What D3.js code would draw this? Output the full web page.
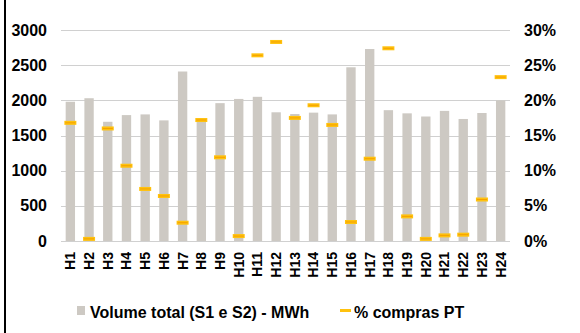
<!DOCTYPE html>
<html>
<head>
<meta charset="utf-8">
<script src="https://cdn.jsdelivr.net/npm/d3@7"></script>
<style>
  html, body { margin: 0; padding: 0; background: #fff; }
  svg { display: block; font-family: "Liberation Sans", Arial, sans-serif; font-weight: bold; }
</style>
</head>
<body>
<svg id="chart" width="580" height="333"></svg>
<script>
const categories = ["H1","H2","H3","H4","H5","H6","H7","H8","H9","H10","H11","H12","H13","H14","H15","H16","H17","H18","H19","H20","H21","H22","H23","H24"];
const volume = [1980, 2030, 1695, 1790, 1800, 1715, 2410, 1710, 1960, 2020, 2050, 1830, 1805, 1825, 1800, 2470, 2730, 1860, 1815, 1770, 1850, 1735, 1820, 2000];
const comprasPT = [16.8, 0.3, 16.0, 10.7, 7.4, 6.4, 2.6, 17.2, 11.9, 0.7, 26.4, 28.3, 17.5, 19.3, 16.5, 2.7, 11.7, 27.4, 3.5, 0.3, 0.8, 0.9, 5.9, 23.3];
const leftTicks = [0, 500, 1000, 1500, 2000, 2500, 3000];
const rightTicks = [0, 5, 10, 15, 20, 25, 30];
const legendLabels = ["Volume total (S1 e S2) - MWh", "% compras PT"];

const svg = d3.select("#chart");
const plot = { left: 61, right: 510, top: 30, bottom: 241 };
const FONT = "Liberation Sans, Arial, sans-serif";

const x = d3.scaleBand().domain(categories).range([plot.left, plot.right]).paddingInner(0.5).paddingOuter(0.25);
const yL = d3.scaleLinear().domain([0, 3000]).range([plot.bottom, plot.top]);
const yR = d3.scaleLinear().domain([0, 30]).range([plot.bottom, plot.top]);

// left border line
svg.append("line").attr("x1", 5).attr("x2", 5).attr("y1", 0).attr("y2", 333)
  .attr("stroke", "#000").attr("stroke-width", 2);

// gridlines
svg.append("g").selectAll("line").data(leftTicks).join("line")
  .attr("x1", plot.left).attr("x2", plot.right)
  .attr("y1", d => Math.round(yL(d)) + 0.5).attr("y2", d => Math.round(yL(d)) + 0.5)
  .attr("stroke", "#d0d0d0").attr("stroke-width", 1);

// bars
svg.append("g").selectAll("rect").data(categories).join("rect")
  .attr("x", d => x(d))
  .attr("width", x.bandwidth())
  .attr("y", (d, i) => yL(volume[i]))
  .attr("height", (d, i) => yL(0) - yL(volume[i]))
  .attr("fill", "#cdc9c3");

// markers
const mw = 12;
const mk = svg.append("g").selectAll("g").data(categories).join("g")
  .attr("transform", (d, i) => `translate(${x(d) + x.bandwidth() / 2},${yR(comprasPT[i])})`);
mk.append("rect").attr("x", -mw / 2).attr("y", -2).attr("width", mw).attr("height", 4).attr("fill", "#ffc20e");
mk.append("line").attr("x1", -mw / 2 + 1).attr("x2", mw / 2 - 1).attr("y1", 0).attr("y2", 0)
  .attr("stroke", "#f5a000").attr("stroke-width", 1);

// left axis
const axL = d3.axisLeft(yL).tickValues(leftTicks).tickFormat(d3.format("d")).tickSize(0).tickPadding(0);
const gL = svg.append("g").attr("transform", "translate(47,0)").call(axL);
gL.attr("font-family", FONT);
gL.select(".domain").remove();
gL.selectAll("text").attr("font-size", "16px").attr("font-weight", "bold").attr("fill", "#000");

// right axis
const axR = d3.axisRight(yR).tickValues(rightTicks).tickFormat(d => d + "%").tickSize(0).tickPadding(0);
const gR = svg.append("g").attr("transform", "translate(524,0)").call(axR);
gR.attr("font-family", FONT);
gR.select(".domain").remove();
gR.selectAll("text").attr("font-size", "16px").attr("font-weight", "bold").attr("fill", "#000");

// x labels
const axB = d3.axisBottom(x).tickSize(0).tickPadding(0);
const gB = svg.append("g").attr("transform", `translate(0,${plot.bottom})`).call(axB);
gB.attr("font-family", FONT);
gB.select(".domain").remove();
gB.selectAll("text")
  .attr("font-size", "14px").attr("font-weight", "bold").attr("fill", "#000")
  .attr("text-anchor", "end")
  .attr("transform", "translate(0,11) rotate(-90)")
  .attr("x", 0).attr("y", 0).attr("dy", "0.35em");

// legend
const lg = svg.append("g").attr("font-family", FONT).attr("font-weight", "bold");
lg.append("rect").attr("x", 77).attr("y", 306).attr("width", 8).attr("height", 9).attr("fill", "#cdc9c3");
lg.append("text").attr("x", 90).attr("y", 318).attr("font-size", "16px").attr("fill", "#000").text(legendLabels[0]);
lg.append("rect").attr("x", 340).attr("y", 309).attr("width", 11).attr("height", 3).attr("fill", "#ffc20e");
lg.append("text").attr("x", 354).attr("y", 318).attr("font-size", "16px").attr("fill", "#000").text(legendLabels[1]);
</script>
</body>
</html>
